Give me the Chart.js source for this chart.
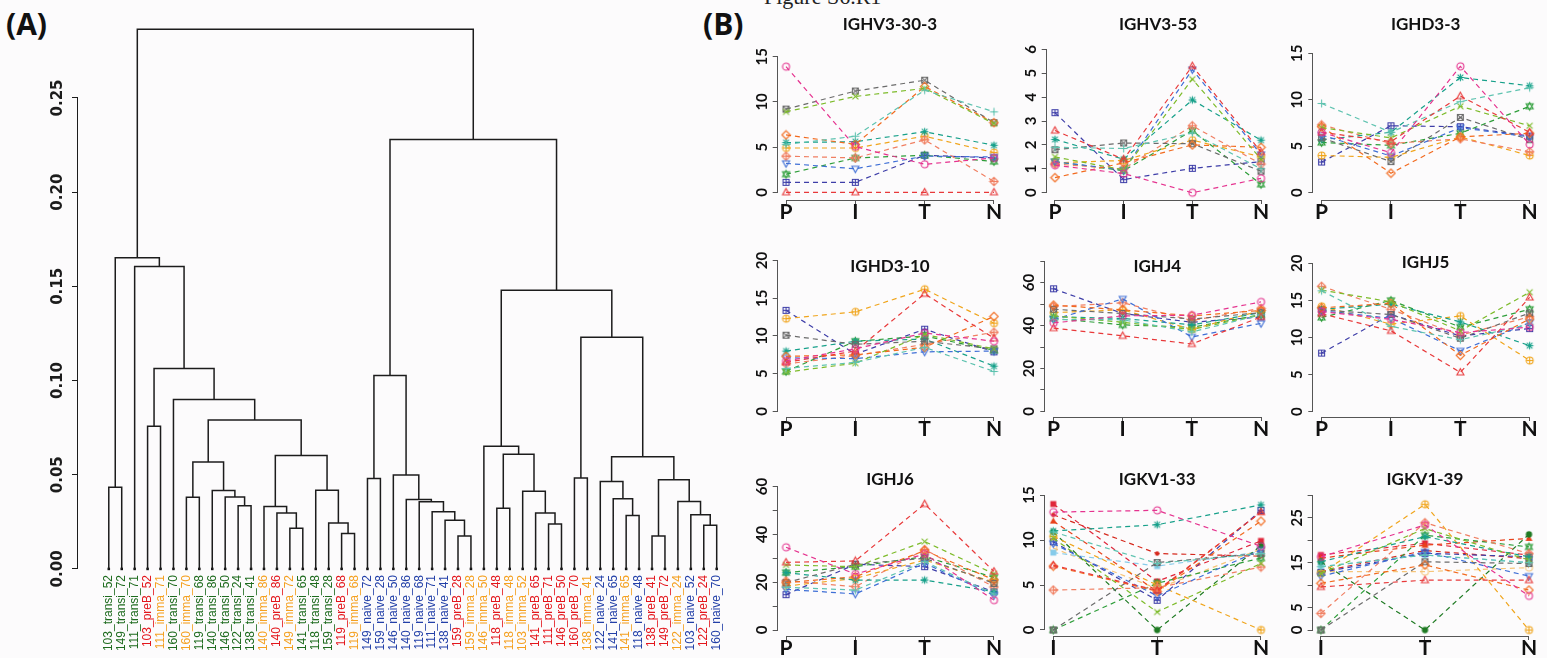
<!DOCTYPE html>
<html>
<head>
<meta charset="utf-8">
<script src="https://cdn.jsdelivr.net/npm/chart.js@4.4.1/dist/chart.umd.min.js"></script>
<style>
	html, body { margin: 0; padding: 0; background: #fcfbfc; }
	#page { position: relative; width: 1547px; height: 658px; overflow: hidden; }
	#page canvas { position: absolute; }
	.tag { position: absolute; font: bold 30px "Open Sans", sans-serif; line-height: 30px; color: #111; }
	.fig { position: absolute; font: 22px "Liberation Serif", serif; color: #222; }
</style>
</head>
<body>
<div id="page">
	<div class="fig" style="left:764px; top:-16px;">Figure S6.R1</div>
	<div class="tag" style="left:6px; top:9px;">(A)</div>
	<div class="tag" style="left:703px; top:9px;">(B)</div>
</div>
<script>
/* ---------- Data: dendrogram (A) ---------- */

var LEAVES = [
	'103_transi_52', '149_transi_72', '111_transi_71', '103_preB_52', '111_imma_71', '160_transi_70',
	'160_imma_70', '119_transi_68', '140_transi_86', '146_transi_50', '122_transi_24', '138_transi_41',
	'140_imma_86', '140_preB_86', '149_imma_72', '141_transi_65', '118_transi_48', '159_transi_28',
	'119_preB_68', '119_imma_68', '149_naive_72', '159_naive_28', '146_naive_50', '140_naive_86',
	'119_naive_68', '111_naive_71', '138_naive_41', '159_preB_28', '159_imma_28', '146_imma_50',
	'118_preB_48', '118_imma_48', '103_imma_52', '141_preB_65', '111_preB_71', '146_preB_50',
	'160_preB_70', '138_imma_41', '122_naive_24', '141_naive_65', '141_imma_65', '118_naive_48',
	'138_preB_41', '149_preB_72', '122_imma_24', '103_naive_52', '122_preB_24', '160_naive_70'
];

// hclust-style merges: negative = leaf (1-based), positive = earlier merge row (1-based), then height
var MERGES = [
	[-1, -2, 0.0434], [-19, -20, 0.0188], [-18, 2, 0.0244], [-17, 3, 0.0418],
	[-15, -16, 0.0216], [-14, 5, 0.0297], [-13, 6, 0.0331], [7, 4, 0.0602],
	[-11, -12, 0.0336], [-10, 9, 0.0382], [-9, 10, 0.0416], [-7, -8, 0.0381],
	[12, 11, 0.0568], [13, 8, 0.0791], [-6, 14, 0.0899], [-4, -5, 0.0758],
	[16, 15, 0.1064], [-3, 17, 0.1605], [1, 18, 0.1652],
	[-21, -22, 0.0480], [-28, -29, 0.0175], [-27, 21, 0.0258], [-26, 22, 0.0303],
	[-25, 23, 0.0356], [-24, 24, 0.0368], [-23, 25, 0.0499], [20, 26, 0.1027],
	[-35, -36, 0.0239], [-34, 28, 0.0297], [-33, 29, 0.0412], [-31, -32, 0.0322],
	[31, 30, 0.0609], [-30, 32, 0.0651], [-37, -38, 0.0483], [-41, -42, 0.0283],
	[-40, 35, 0.0373], [-39, 36, 0.0464], [-47, -48, 0.0232], [-46, 38, 0.0288],
	[-45, 39, 0.0358], [-43, -44, 0.0175], [41, 40, 0.0473], [37, 42, 0.0595],
	[34, 43, 0.1230], [33, 44, 0.1480], [27, 45, 0.2279], [19, 46, 0.2865]
];

var DENDRO_TICKS = [0, 0.05, 0.10, 0.15, 0.20, 0.25];

/* ---------- Data: line panels (B) ---------- */

var CATS_PITN = ['P', 'I', 'T', 'N'];
var CATS_ITN = ['I', 'T', 'N'];

// one row per individual, in the order of SYM_KIND / SYM_COLOR
var IGHV3_30_3 = [
	[13.9, 5.05, 3.1, 3.8], [0, 0, 0, 0], [5.3, 6.2, 11.3, 8.9], [8.9, 10.6, 11.5, 7.6],
	[6.35, 5.3, 11.7, 7.7], [3.2, 2.6, 4.0, 3.9], [9.2, 11.2, 12.4, 7.7], [5.5, 5.6, 6.7, 5.2],
	[4.0, 3.8, 5.8, 1.2], [4.9, 4.9, 6.2, 4.4], [2.0, 3.8, 4.1, 3.4], [1.1, 1.1, 4.1, 3.8]
];
var IGHV3_53 = [
	[1.15, 0.8, 0, 0.6], [2.6, 1.4, 5.3, 1.7], [1.9, 1.85, 2.5, 1.0], [1.5, 0.95, 4.75, 1.4],
	[0.63, 1.25, 2.0, 1.9], [1.3, 0.95, 5.15, 1.6], [1.8, 2.08, 2.05, 0.9], [2.23, 1.4, 3.88, 2.2],
	[1.2, 1.0, 2.8, 1.2], [1.25, 1.35, 2.2, 1.5], [1.3, 0.92, 2.6, 0.35], [3.35, 0.55, 1.02, 1.3]
];
var IGHD3_3 = [
	[6.5, 4.3, 13.6, 5.2], [6.5, 5.5, 10.4, 6.5], [9.6, 6.5, 9.8, 11.3], [7.0, 5.9, 9.3, 7.2],
	[7.1, 2.1, 6.0, 6.4], [6.2, 3.95, 7.0, 6.0], [5.9, 3.35, 8.1, 5.7], [5.7, 6.5, 12.4, 11.5],
	[7.3, 5.3, 5.8, 4.4], [4.0, 3.8, 6.0, 4.0], [5.4, 5.1, 6.4, 9.3], [3.3, 7.2, 7.1, 6.1]
];
var IGHD3_10 = [
	[6.7, 8.3, 10.4, 9.3], [6.5, 8.0, 15.6, 9.7], [5.7, 6.5, 8.5, 5.3], [5.2, 6.4, 10.2, 8.3],
	[7.3, 7.5, 8.5, 12.6], [7.1, 7.0, 7.9, 8.0], [10.1, 8.9, 9.3, 8.3], [8.0, 9.3, 9.6, 6.0],
	[6.3, 7.4, 8.9, 10.5], [12.3, 13.2, 16.2, 11.7], [5.3, 9.3, 10.0, 8.1], [13.4, 7.6, 10.9, 7.9]
];
var IGHJ4 = [
	[41.2, 44.5, 44.8, 51], [38.8, 35.2, 31.4, 44], [42.7, 42.7, 37, 45], [44.5, 41.5, 38.2, 45],
	[49.5, 47.3, 44.5, 47], [42.7, 52.4, 34.7, 41], [47.6, 45.6, 43, 46], [44.1, 43.3, 40.3, 46],
	[48.8, 50.6, 42.3, 48], [46, 47.3, 38.2, 47], [43.3, 40.3, 39.2, 45], [57.1, 45.6, 41.5, 44]
];
var IGHJ5 = [
	[13.5, 12.45, 10.65, 11.4], [13.2, 10.9, 5.3, 15.4], [16.3, 11.5, 9.7, 11.8], [16.4, 14.8, 10.9, 16.1],
	[14.0, 14.6, 7.6, 12.5], [13.6, 12.6, 8.2, 12.0], [13.7, 13.1, 9.9, 13.3], [13.8, 14.5, 12.1, 8.9],
	[16.9, 13.8, 10.3, 12.8], [14.2, 11.8, 12.9, 6.9], [12.7, 15.0, 11.4, 13.8], [7.9, 13.1, 10.2, 11.2]
];
var IGHJ6 = [
	[34.6, 23.4, 31.8, 12.5], [28.3, 28.9, 52.7, 24.5], [17.9, 16.7, 28.6, 15], [27.2, 26.5, 37, 23.5],
	[19.8, 22.3, 33.2, 21], [17, 15.1, 27.9, 14.5], [19.8, 27.5, 30, 19.5], [24.0, 20.9, 20.9, 16],
	[20.6, 18.1, 33.7, 18], [18.4, 21.6, 29.3, 20], [24.0, 26.5, 30.7, 22], [14.8, 27.5, 26.5, 16]
];
var IGKV1_33 = [
	[13.1, 13.3, 9.3], [7.2, 4.4, 13.1], [10.9, 7.4, 8.5], [10.2, 2.0, 7.4],
	[7.1, 4.3, 12.1], [9.6, 3.8, 8.9], [0, 7.5, 8.5], [11.0, 11.7, 13.9],
	[4.44, 4.7, 7.0], [10.4, 5.0, 0], [0, 5.2, 8.0], [9.8, 3.3, 13.3],
	[10.9, 0, 9.4], [12.1, 4.3, 13.1], [14.0, 5.4, 9.9], [8.6, 7.1, 8.7],
	[12.8, 8.5, 8.2], [9.1, 4.6, 9.0]
];
var IGKV1_39 = [
	[16.3, 23.4, 7.6], [9.6, 11.1, 11.1], [14.1, 16.7, 15.0], [12.6, 22.6, 15.6],
	[10.4, 14.5, 8.9], [12.0, 17.4, 12.0], [0, 15.2, 14.8], [15.2, 20.8, 16.3],
	[3.7, 23.9, 17.0], [12.6, 28.0, 0], [0, 21.1, 18.5], [12.8, 17.1, 16.3],
	[15.2, 0, 21.3], [16.0, 18.9, 20.4], [16.7, 19.3, 16.7], [14.1, 16.7, 15.0],
	[13.0, 17.7, 15.9], [13.0, 13.0, 13.9]
];

var PANEL_NAMES = ['IGHV3-30-3', 'IGHV3-53', 'IGHD3-3', 'IGHD3-10', 'IGHJ4', 'IGHJ5', 'IGHJ6', 'IGKV1-33', 'IGKV1-39'];
var PANEL_DATA = [IGHV3_30_3, IGHV3_53, IGHD3_3, IGHD3_10, IGHJ4, IGHJ5, IGHJ6, IGKV1_33, IGKV1_39];
var PANEL_CATS = [CATS_PITN, CATS_PITN, CATS_PITN, CATS_PITN, CATS_PITN, CATS_PITN, CATS_PITN, CATS_ITN, CATS_ITN];
var PANEL_YTICKS = [
	[0, 5, 10, 15], [0, 1, 2, 3, 4, 5, 6], [0, 5, 10, 15],
	[0, 5, 10, 15, 20], [0, 10, 20, 30, 40, 50, 60, 70], [0, 5, 10, 15, 20],
	[0, 10, 20, 30, 40, 50, 60], [0, 5, 10, 15], [0, 5, 10, 15, 20, 25, 30]
];
var PANEL_YLABELS = [
	[0, 5, 10, 15], [0, 1, 2, 3, 4, 5, 6], [0, 5, 10, 15],
	[0, 5, 10, 15, 20], [0, 20, 40, 60], [0, 5, 10, 15, 20],
	[0, 20, 40, 60], [0, 5, 10, 15], [0, 5, 15, 25]
];

/* ---------- Styles and layout ---------- */

var GROUP_COLORS = { transi: '#1e6b1e', preB: '#e3161c', imma: '#f4a020', naive: '#2340a8' };

var SYM_KIND = ['o', 'tri', '+', 'x', 'dia', 'itri', 'sqx', 'ast', 'diap', 'op', 'dav', 'sqp',
	'fo', 'ftri', 'fsqx', 'fsq', 'dot', 'o'];
var SYM_COLOR = ['#e5338f', '#e8393a', '#5fc3b0', '#7dbb2a', '#f26a1e', '#3f6fd6', '#6b6b6b', '#17a08a',
	'#f07f62', '#f0a51c', '#2e9e3a', '#3e3ea8', '#1f7a23', '#e8421c', '#e0263a', '#86cbea', '#d62a1e', '#f6c57a'];

// chart area [left, top, right, bottom] in page px, title centre y, ranges
var PANEL_BOX = [
	[777.7, 50, 1002.3, 200, 25], [1046.7, 45, 1269.3, 200, 25], [1313.3, 47, 1538, 200, 25],
	[777.7, 250, 1002.3, 417, 263], [1045.3, 250, 1269.3, 417, 263], [1313.3, 255, 1538, 417, 263],
	[777.7, 480, 1002.3, 636, 480], [1045, 488, 1269.3, 636, 480], [1312.6, 488, 1537.3, 636, 480]
];
var PANEL_RANGE = [
	[-0.12, 3.12, -0.852, 15.74], [-0.12, 3.12, -0.305, 6.18], [-0.12, 3.12, -0.786, 15.68],
	[-0.12, 3.12, -0.74, 20.87], [-0.12, 3.12, -2.59, 73.3], [-0.12, 3.12, -0.714, 21.12],
	[-0.12, 3.12, -2.51, 62.76], [-0.08, 2.08, -0.667, 15.78], [-0.08, 2.08, -1.336, 31.63]
];
var PANEL_YPAD = [2, 6, 2, 2, 2, 2, 2, 2, 2];

Chart.defaults.font.family = 'Lato, sans-serif';

/* ---------- Helpers ---------- */

function makeSymbol(kind, color) {
	var c = document.createElement('canvas');
	c.width = 11;
	c.height = 11;
	var g = c.getContext('2d');
	var m = 5.5, r = 3.5;
	g.strokeStyle = color;
	g.fillStyle = color;
	g.lineWidth = 1.1;

	function line(x1, y1, x2, y2) {
		g.beginPath();
		g.moveTo(m + x1, m + y1);
		g.lineTo(m + x2, m + y2);
		g.stroke();
	}
	function poly(pts, fill) {
		g.beginPath();
		pts.forEach(function (p, i) {
			if (i) { g.lineTo(m + p[0], m + p[1]); } else { g.moveTo(m + p[0], m + p[1]); }
		});
		g.closePath();
		if (fill) { g.fill(); } else { g.stroke(); }
	}
	function circle(rad, fill) {
		g.beginPath();
		g.arc(m, m, rad, 0, Math.PI * 2);
		if (fill) { g.fill(); } else { g.stroke(); }
	}
	var s = r * 0.85, d = r * 1.2;
	var up = [[0, -r * 1.1], [r, r * 0.7], [-r, r * 0.7]];
	var down = [[0, r * 1.1], [r, -r * 0.7], [-r, -r * 0.7]];
	var sq = [[-s, -s], [s, -s], [s, s], [-s, s]];
	var dia = [[0, -d], [d, 0], [0, d], [-d, 0]];
	var plus = function (k) { line(-k, 0, k, 0); line(0, -k, 0, k); };
	var cross = function (k) { line(-k, -k, k, k); line(-k, k, k, -k); };

	switch (kind) {
		case 'o': circle(r, false); break;
		case 'tri': poly(up, false); break;
		case '+': plus(r + 0.5); break;
		case 'x': cross(r * 0.85); break;
		case 'dia': poly(dia, false); break;
		case 'itri': poly(down, false); break;
		case 'sqx': poly(sq, false); cross(s); break;
		case 'ast': plus(r + 0.3); cross(r * 0.8); break;
		case 'diap': poly(dia, false); plus(d); break;
		case 'op': circle(r, false); plus(r); break;
		case 'dav': poly(up, false); poly(down, false); break;
		case 'sqp': poly(sq, false); plus(s); break;
		case 'fo': circle(r * 0.9, true); break;
		case 'ftri': poly(up, true); break;
		case 'fsqx': poly(sq, true); break;
		case 'fsq': poly(sq, true); break;
		case 'dot': circle(2.2, true); break;
	}
	return c;
}

// R-style axis lines: only from the first to the last tick, drawn on the plot box edge.
var rAxes = {
	id: 'rAxes',
	afterDraw: function (chart, args, opts) {
		var ctx = chart.ctx;
		var area = chart.chartArea;
		ctx.save();
		ctx.strokeStyle = opts.color || '#333';
		ctx.lineWidth = 1;
		if (opts.y !== false) {
			var ys = chart.scales.y, yt = ys.ticks;
			var xl = Math.round(area.left) - 0.5;
			ctx.beginPath();
			ctx.moveTo(xl, ys.getPixelForValue(yt[0].value));
			ctx.lineTo(xl, ys.getPixelForValue(yt[yt.length - 1].value));
			ctx.stroke();
		}
		if (opts.x !== false) {
			var xs = chart.scales.x, xt = xs.ticks;
			var yb = Math.round(area.bottom) + 0.5;
			ctx.beginPath();
			ctx.moveTo(xs.getPixelForValue(xt[0].value), yb);
			ctx.lineTo(xs.getPixelForValue(xt[xt.length - 1].value), yb);
			ctx.stroke();
		}
		ctx.restore();
	}
};

function addCanvas(left, top, width, height) {
	var c = document.createElement('canvas');
	c.width = width;
	c.height = height;
	c.style.left = left + 'px';
	c.style.top = top + 'px';
	c.style.width = width + 'px';
	c.style.height = height + 'px';
	document.getElementById('page').appendChild(c);
	return c;
}

/* ---------- Dendrogram ---------- */

function buildDendrogram() {
	var nodeX = [], nodeH = [];
	function childPos(c) {
		return c < 0 ? [-c - 1, 0] : [nodeX[c - 1], nodeH[c - 1]];
	}
	var datasets = MERGES.map(function (m, k) {
		var a = childPos(m[0]), b = childPos(m[1]);
		nodeX[k] = (a[0] + b[0]) / 2;
		nodeH[k] = m[2];
		return {
			type: 'line',
			data: [{ x: a[0], y: a[1] }, { x: a[0], y: m[2] }, { x: b[0], y: m[2] }, { x: b[0], y: b[1] }],
			borderColor: '#1c1c1c',
			borderWidth: 1.5,
			pointRadius: 0,
			fill: false,
			tension: 0,
			clip: false
		};
	});
	datasets.push({
		type: 'scatter',
		data: LEAVES.map(function (l, i) { return { x: i, y: 0 }; }),
		pointStyle: 'rect',
		pointRadius: 1.8,
		backgroundColor: '#111',
		borderColor: '#111',
		borderWidth: 0,
		clip: false
	});

	var cv = addCanvas(0, 0, 760, 658);
	new Chart(cv, {
		type: 'line',
		data: { datasets: datasets },
		plugins: [rAxes],
		options: {
			responsive: false,
			animation: false,
			events: [],
			layout: { padding: { left: 0, top: 20, right: 12, bottom: 0 } },
			plugins: {
				legend: { display: false },
				tooltip: { enabled: false },
				rAxes: { x: false, color: '#1c1c1c' }
			},
			scales: {
				x: {
					type: 'linear',
					min: -2.38,
					max: 49.42,
					bounds: 'data',
					afterBuildTicks: function (s) { s.ticks = LEAVES.map(function (l, i) { return { value: i }; }); },
					afterFit: function (s) { s.height = 87; },
					ticks: {
						autoSkip: false,
						minRotation: 90,
						maxRotation: 90,
						padding: 4,
						font: { family: '"Liberation Sans", Arial, sans-serif', size: 12 },
						color: function (ctx) { return GROUP_COLORS[LEAVES[ctx.index].split('_')[1]]; },
						callback: function (v, i) { return LEAVES[i]; }
					},
					grid: { display: false, drawTicks: false },
					border: { display: false }
				},
				y: {
					min: -0.0011,
					max: 0.2914,
					bounds: 'data',
					afterBuildTicks: function (s) { s.ticks = DENDRO_TICKS.map(function (v) { return { value: v }; }); },
					afterFit: function (s) { s.width = 78; },
					ticks: {
						minRotation: 90,
						maxRotation: 90,
						crossAlign: 'center',
						padding: -5,
						color: '#1c1c1c',
						font: { family: '"DejaVu Sans", sans-serif', weight: 'bold', size: 15 },
						callback: function (v) { return v.toFixed(2); }
					},
					grid: { drawOnChartArea: false, drawTicks: true, tickLength: 6, color: '#1c1c1c' },
					border: { display: false }
				}
			}
		}
	});
}

/* ---------- Line panels ---------- */

function buildPanel(p) {
	var box = PANEL_BOX[p], rng = PANEL_RANGE[p];
	var cats = PANEL_CATS[p], yTicks = PANEL_YTICKS[p], yLabels = PANEL_YLABELS[p];
	var left = box[0], top = box[1], right = box[2], bottom = box[3], titleY = box[4];
	var XH = 36, PR = 12, TS = 17;

	var cLeft = Math.floor(left - 45);
	var cTop = Math.floor(Math.min(top, titleY - 14) - 6);
	var YW = left - cLeft;
	var PT = top - cTop;
	var width = Math.ceil(YW + (right - left) + PR);
	var height = Math.ceil(PT + (bottom - top) + XH);
	var tPad = titleY - top - TS / 2;

	var datasets = PANEL_DATA[p].map(function (vals, k) {
		return {
			data: vals.map(function (v, i) { return { x: i, y: v }; }),
			borderColor: SYM_COLOR[k],
			backgroundColor: SYM_COLOR[k],
			borderWidth: 1.2,
			borderDash: [5, 4],
			pointStyle: makeSymbol(SYM_KIND[k], SYM_COLOR[k]),
			pointRadius: 5,
			fill: false,
			tension: 0,
			clip: false
		};
	});

	var cv = addCanvas(cLeft, cTop, width, height);
	new Chart(cv, {
		type: 'line',
		data: { datasets: datasets },
		plugins: [rAxes],
		options: {
			responsive: false,
			animation: false,
			events: [],
			layout: { padding: { left: 0, top: PT, right: width - YW - (right - left), bottom: 0 } },
			plugins: {
				legend: { display: false },
				tooltip: { enabled: false },
				rAxes: { color: '#555' },
				title: {
					display: true,
					text: PANEL_NAMES[p],
					fullSize: false,
					color: '#111',
					font: { family: 'Lato, sans-serif', weight: 'bold', size: TS, lineHeight: 1 },
					padding: { top: tPad, bottom: -(TS + tPad) }
				}
			},
			scales: {
				x: {
					type: 'linear',
					min: rng[0],
					max: rng[1],
					bounds: 'data',
					afterBuildTicks: function (s) { s.ticks = cats.map(function (c, i) { return { value: i }; }); },
					afterFit: function (s) { s.height = XH; },
					ticks: {
						autoSkip: false,
						maxRotation: 0,
						padding: -4,
						color: '#111',
						font: { family: 'Lato, sans-serif', weight: 'bold', size: 21 },
						callback: function (v, i) { return cats[i]; }
					},
					grid: { drawOnChartArea: false, drawTicks: true, tickLength: 4, color: '#555' },
					border: { display: false }
				},
				y: {
					min: rng[2],
					max: rng[3],
					bounds: 'data',
					afterBuildTicks: function (s) { s.ticks = yTicks.map(function (v) { return { value: v }; }); },
					afterFit: function (s) { s.width = YW; },
					ticks: {
						minRotation: 90,
						maxRotation: 90,
						crossAlign: 'center',
						padding: PANEL_YPAD[p],
						color: '#111',
						font: { family: 'Lato, sans-serif', weight: 'bold', size: 15 },
						callback: function (v) { return yLabels.indexOf(v) >= 0 ? String(v) : ''; }
					},
					grid: { drawOnChartArea: false, drawTicks: true, tickLength: 5, color: '#555' },
					border: { display: false }
				}
			}
		}
	});
}

buildDendrogram();
for (var p = 0; p < PANEL_NAMES.length; p++) {
	buildPanel(p);
}
</script>
</body>
</html>
